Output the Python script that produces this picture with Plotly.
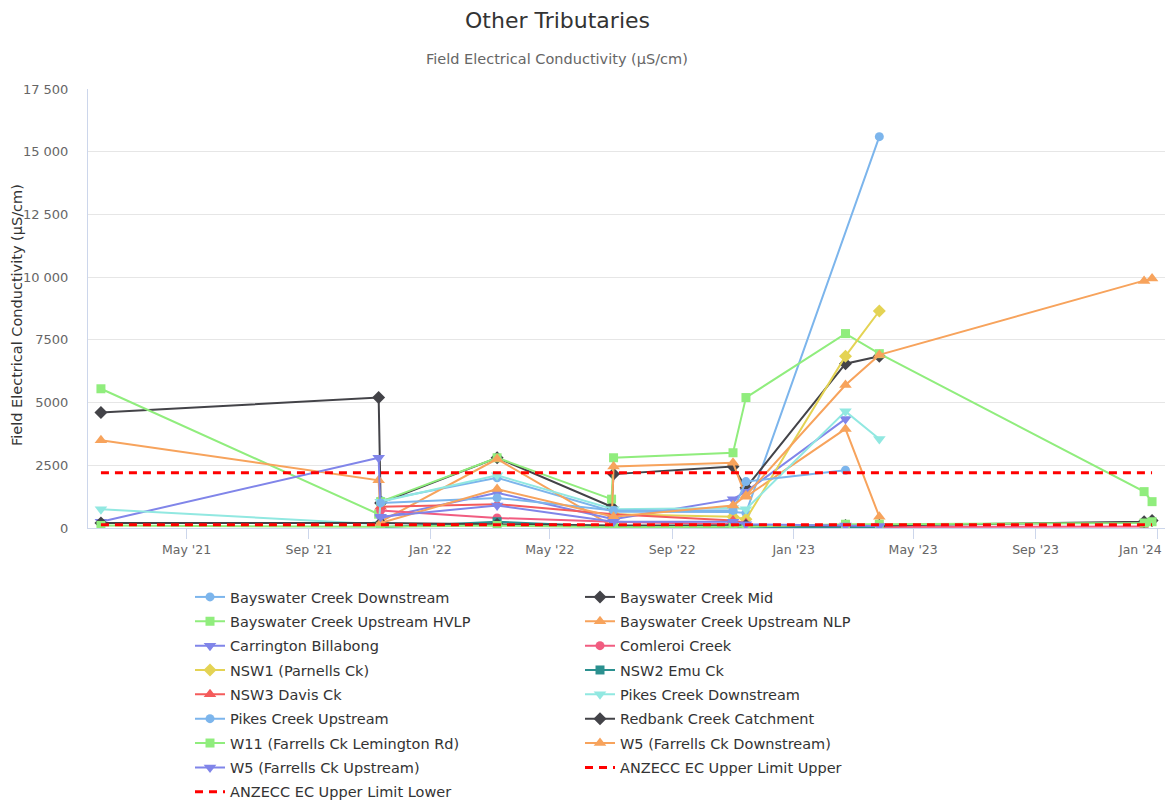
import plotly.graph_objects as go

# Sampling rounds (some rounds have two visits a couple of days apart)
D1 = "2021-02-04"
D2A = "2021-11-10"
D2 = "2021-11-12"
D3 = "2022-03-09"
D4A = "2022-07-02"
D4 = "2022-07-04"
D5 = "2022-11-01"
D6 = "2022-11-14"
D7 = "2023-02-22"
D8 = "2023-03-28"
D9 = "2023-12-19"
D10 = "2023-12-27"

# Field EC (µS/cm) per monitoring site
bcd_dates = [D2, D3, D4, D5, D6, D8]
bcd_ec = [1100, 2000, 650, 640, 600, 15600]

bcm_dates = [D1, D2A, D2, D3, D4A, D4, D5, D6, D7, D8]
bcm_ec = [4600, 5200, 1000, 2800, 850, 2150, 2450, 1600, 6550, 6850]

hvlp_dates = [D1, D2A, D2, D3, D4A, D4, D5, D6, D7, D8, D9, D10]
hvlp_ec = [5550, 550, 1050, 2800, 1150, 2800, 3000, 5200, 7750, 6950, 1450, 1050]

nlp_dates = [D1, D2A, D2, D3, D4A, D4, D5, D6, D7, D8]
nlp_ec = [3500, 1900, 250, 2750, 100, 2450, 2600, 1250, 3950, 450]

carr_dates = [D1, D2A, D2, D3, D4, D5, D6, D7]
carr_ec = [250, 2800, 400, 1400, 350, 1150, 1450, 4350]

com_dates = [D2, D3, D4, D5, D6, D7, D8, D9]
com_ec = [700, 400, 250, 150, 100, 80, 40, 60]

nsw1_dates = [D4, D5, D6, D7, D8]
nsw1_ec = [550, 450, 350, 6850, 8650]

nsw2_dates = [D2, D3, D4, D7, D8]
nsw2_ec = [30, 250, 50, 20, 30]

nsw3_dates = [D2, D3, D4, D5, D6]
nsw3_ec = [850, 950, 550, 300, 200]

pcd_dates = [D1, D2A, D2, D3, D4, D5, D6, D7, D8]
pcd_ec = [750, 150, 1050, 2100, 750, 800, 750, 4650, 3550]

pcu_dates = [D2, D3, D4, D5, D6, D7]
pcu_ec = [1000, 1200, 700, 700, 1850, 2300]

red_dates = [D1, D2, D3, D4, D5, D6, D7, D8, D9, D10]
red_ec = [200, 200, 150, 100, 100, 100, 100, 100, 250, 300]

w11_dates = [D1, D2, D3, D4, D5, D6, D7, D8, D9, D10]
w11_ec = [100, 50, 100, 30, 50, 50, 150, 150, 200, 250]

w5d_dates = [D2, D3, D4, D5, D6, D7, D8, D9, D10]
w5d_ec = [200, 1550, 450, 900, 1300, 5700, 6900, 9850, 9950]

w5u_dates = [D2, D3, D4, D5, D6, D7, D8]
w5u_ec = [450, 900, 250, 250, 150, 100, 80]

# ANZECC guideline band
limit_dates = [D1, D10]
limit_upper = [2200, 2200]
limit_lower = [125, 125]

x_tickvals = ["2021-05-01", "2021-09-01", "2022-01-01", "2022-05-01", "2022-09-01",
              "2023-01-01", "2023-05-01", "2023-09-01", "2024-01-01"]
x_ticktext = ["May '21", "Sep '21", "Jan '22", "May '22", "Sep '22",
              "Jan '23", "May '23", "Sep '23", ""]
y_tickvals = [0, 2500, 5000, 7500, 10000, 12500, 15000, 17500]
y_ticktext = ["0", "2500", "5000", "7500", "10 000", "12 500", "15 000", "17 500"]

series = [
    ("Bayswater Creek Downstream", bcd_dates, bcd_ec, "#7cb5ec", "circle"),
    ("Bayswater Creek Mid", bcm_dates, bcm_ec, "#434348", "diamond"),
    ("Bayswater Creek Upstream HVLP", hvlp_dates, hvlp_ec, "#90ed7d", "square"),
    ("Bayswater Creek Upstream NLP", nlp_dates, nlp_ec, "#f7a35c", "triangle-up"),
    ("Carrington Billabong", carr_dates, carr_ec, "#8085e9", "triangle-down"),
    ("Comleroi Creek", com_dates, com_ec, "#f15c80", "circle"),
    ("NSW1 (Parnells Ck)", nsw1_dates, nsw1_ec, "#e4d354", "diamond"),
    ("NSW2 Emu Ck", nsw2_dates, nsw2_ec, "#2b908f", "square"),
    ("NSW3 Davis Ck", nsw3_dates, nsw3_ec, "#f45b5b", "triangle-up"),
    ("Pikes Creek Downstream", pcd_dates, pcd_ec, "#91e8e1", "triangle-down"),
    ("Pikes Creek Upstream", pcu_dates, pcu_ec, "#7cb5ec", "circle"),
    ("Redbank Creek Catchment", red_dates, red_ec, "#434348", "diamond"),
    ("W11 (Farrells Ck Lemington Rd)", w11_dates, w11_ec, "#90ed7d", "square"),
    ("W5 (Farrells Ck Downstream)", w5d_dates, w5d_ec, "#f7a35c", "triangle-up"),
    ("W5 (Farrells Ck Upstream)", w5u_dates, w5u_ec, "#8085e9", "triangle-down"),
]

marker_size = {"circle": 9, "diamond": 10, "square": 9,
               "triangle-up": 11, "triangle-down": 11}

FONT = "DejaVu Sans"
L, R, T, B = 88, 1, 89, 273
W, H = 1166, 801
PW, PH = W - L - R, H - T - B


def px_x(px):
    return (px - L) / PW


def px_y(py):
    return (H - B - py) / PH


def legend_key(i):
    # two entries per legend row
    row = i // 2
    return "legend" if row == 0 else "legend%d" % (row + 1)


fig = go.Figure()
idx = 0
for name, xs, ys, color, symbol in series:
    fig.add_trace(go.Scatter(
        x=xs, y=ys, name=name, mode="lines+markers",
        line=dict(color=color, width=2),
        marker=dict(color=color, symbol=symbol, size=marker_size[symbol]),
        legend=legend_key(idx),
    ))
    idx += 1

for name, ys in [("ANZECC EC Upper Limit Upper", limit_upper),
                 ("ANZECC EC Upper Limit Lower", limit_lower)]:
    fig.add_trace(go.Scatter(
        x=limit_dates, y=ys, name=name, mode="lines",
        line=dict(color="#ff0000", width=3, dash="8px,6px"),
        legend=legend_key(idx),
    ))
    idx += 1

n_rows = (idx + 1) // 2
row_y0, row_step = 597, 24.35
legends = {}
for r in range(n_rows):
    key = "legend" if r == 0 else "legend%d" % (r + 1)
    legends[key] = dict(
        orientation="h", x=px_x(190), xanchor="left",
        y=px_y(row_y0 + r * row_step), yanchor="middle",
        entrywidth=345, entrywidthmode="pixels",
        font=dict(family=FONT, size=14.5, color="#333333"),
        bgcolor="rgba(0,0,0,0)", traceorder="normal",
    )

fig.update_layout(
    width=W, height=H,
    margin=dict(l=L, r=R, t=T, b=B, autoexpand=False),
    paper_bgcolor="white", plot_bgcolor="white",
    font=dict(family=FONT, color="#333333"),
    xaxis=dict(
        type="date", range=["2021-01-22", "2024-01-09"],
        tickvals=x_tickvals, ticktext=x_ticktext,
        showgrid=False, zeroline=False,
        showline=True, linecolor="#ccd6eb", linewidth=1,
        ticks="outside", ticklen=10, tickcolor="#ccd6eb",
        tickfont=dict(family=FONT, size=12.5, color="#666666"),
    ),
    yaxis=dict(
        range=[0, 17500], tickvals=y_tickvals, ticktext=y_ticktext,
        showgrid=True, gridcolor="#e6e6e6", zeroline=False,
        showline=True, linecolor="#ccd6eb", linewidth=1,
        ticks="", ticklabelstandoff=16,
        tickfont=dict(family=FONT, size=13, color="#666666"),
    ),
    annotations=[
        dict(text="Other Tributaries", xref="paper", yref="paper",
             x=px_x(557), y=px_y(20), xanchor="center", yanchor="middle",
             showarrow=False, font=dict(family=FONT, size=22, color="#333333")),
        dict(text="Field Electrical Conductivity (µS/cm)", xref="paper", yref="paper",
             x=px_x(557), y=px_y(59), xanchor="center", yanchor="middle",
             showarrow=False, font=dict(family=FONT, size=14.5, color="#666666")),
        dict(text="Field Electrical Conductivity (µS/cm)", xref="paper", yref="paper",
             x=px_x(17), y=px_y(315), xanchor="center", yanchor="middle",
             textangle=-90, showarrow=False,
             font=dict(family=FONT, size=14.5, color="#333333")),
        dict(text="Jan '24", xref="paper", yref="paper",
             x=px_x(1164), y=px_y(549), xanchor="right", yanchor="middle",
             showarrow=False, font=dict(family=FONT, size=12.5, color="#666666")),
    ],
    **legends,
)

fig.write_html("out.html")
